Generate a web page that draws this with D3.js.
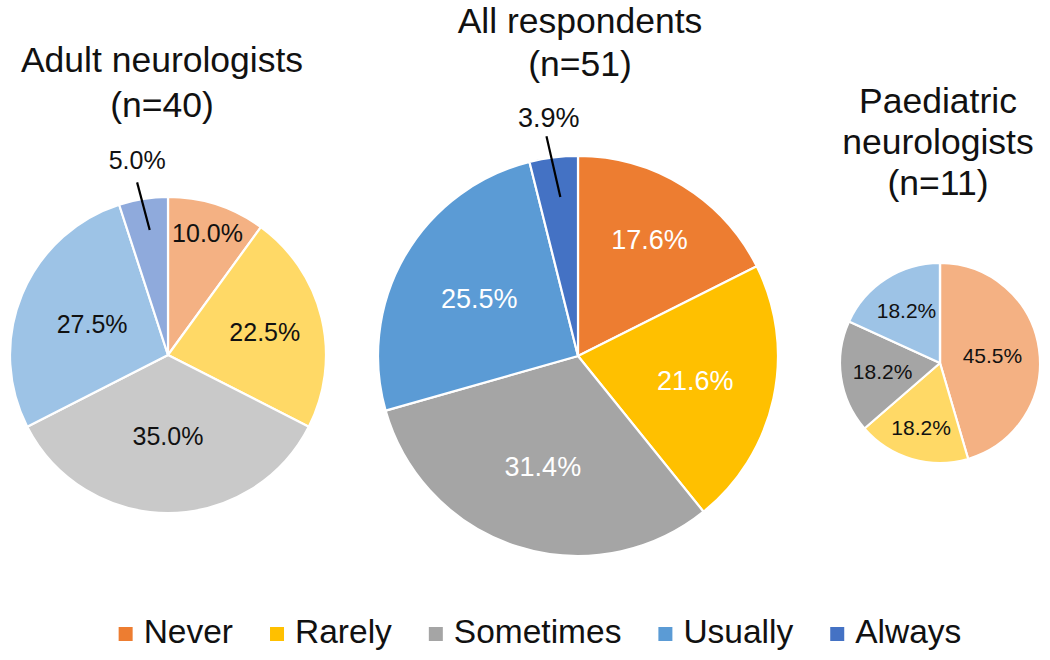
<!DOCTYPE html>
<html>
<head>
<meta charset="utf-8">
<script src="https://cdn.jsdelivr.net/npm/d3@7"></script>
<style>
  html, body { margin: 0; padding: 0; background: #fff; }
  svg { display: block; }
  text { font-family: "Liberation Sans", Arial, Helvetica, sans-serif; }
</style>
</head>
<body>
<svg id="chart" width="1050" height="660"></svg>
<script>
// ---- data ----
const categories = ["Never", "Rarely", "Sometimes", "Usually", "Always"];
const adultValues = [10.0, 22.5, 35.0, 27.5, 5.0];
const allValues = [17.6, 21.6, 31.4, 25.5, 3.9];
const paedValues = [45.5, 18.2, 18.2, 18.2, 0];
const adultTitle = ["Adult neurologists", "(n=40)"];
const allTitle = ["All respondents", "(n=51)"];
const paedTitle = ["Paediatric", "neurologists", "(n=11)"];

// ---- styles / layout ----
const allColors = ["#ED7D31", "#FFC000", "#A5A5A5", "#5B9BD5", "#4472C4"];
const adultColors = ["#F4B183", "#FFD966", "#C9C9C9", "#9DC3E6", "#8FAADC"];
const paedColors = ["#F4B183", "#FFD966", "#A5A5A5", "#9DC3E6", "#8FAADC"];

const charts = [
  { values: adultValues, colors: adultColors, title: adultTitle,
    cx: 168, cy: 355, r: 158, labelSize: 25, labelColor: "#111",
    labelR: [0.81, 0.63, 0.51, 0.52, 1.25], outside: [false, false, false, false, true],
    titleX: 162, titleY: 72, titleStep: 45 },
  { values: allValues, colors: allColors, title: allTitle,
    cx: 578, cy: 356, r: 200, labelSize: 27, labelColor: "#fff",
    labelR: [0.68, 0.60, 0.58, 0.57, 1.20], outside: [false, false, false, false, true],
    titleX: 580, titleY: 33, titleStep: 43 },
  { values: paedValues, colors: paedColors, title: paedTitle,
    cx: 940, cy: 363, r: 100, labelSize: 21, labelColor: "#111",
    labelR: [0.53, 0.67, 0.58, 0.62, 1.2], outside: [false, false, false, false, true],
    titleX: 938, titleY: 113, titleStep: 41 }
];

const svg = d3.select("#chart");
const fmt = d3.format(".1f");

charts.forEach(c => {
  const pie = d3.pie().sort(null).value(d => d)(c.values);
  const arc = d3.arc().innerRadius(0).outerRadius(c.r);
  const g = svg.append("g").attr("transform", `translate(${c.cx},${c.cy})`);

  g.selectAll("path.slice")
    .data(pie)
    .join("path")
    .attr("class", "slice")
    .attr("d", arc)
    .attr("fill", (d, i) => c.colors[i])
    .attr("stroke", "#fff")
    .attr("stroke-width", 2.2)
    .attr("stroke-linejoin", "round");

  pie.forEach((d, i) => {
    if (d.value <= 0) return;
    const mid = (d.startAngle + d.endAngle) / 2;
    const lr = c.labelR[i] * c.r;
    const x = Math.sin(mid) * lr;
    const y = -Math.cos(mid) * lr;
    if (c.outside[i]) {
      const r1 = 0.80 * c.r, r2 = 1.11 * c.r;
      g.append("line")
        .attr("x1", Math.sin(mid + 0.012) * r1).attr("y1", -Math.cos(mid + 0.012) * r1)
        .attr("x2", Math.sin(mid - 0.02) * r2).attr("y2", -Math.cos(mid - 0.02) * r2)
        .attr("stroke", "#000").attr("stroke-width", 2.2);
      g.append("text")
        .attr("x", x).attr("y", y)
        .attr("text-anchor", "middle").attr("dominant-baseline", "central")
        .attr("font-size", c.labelSize).attr("fill", "#111")
        .text(fmt(d.value) + "%");
    } else {
      g.append("text")
        .attr("x", x).attr("y", y)
        .attr("text-anchor", "middle").attr("dominant-baseline", "central")
        .attr("font-size", c.labelSize).attr("fill", c.labelColor)
        .text(fmt(d.value) + "%");
    }
  });

  const t = svg.append("text")
    .attr("text-anchor", "middle")
    .attr("font-size", 35.5)
    .attr("fill", "#111");
  c.title.forEach((line, k) => {
    t.append("tspan")
      .attr("x", c.titleX)
      .attr("y", c.titleY + k * c.titleStep)
      .text(line);
  });
});

// ---- legend ----
const legend = svg.append("g");
const sq = 14, gapSq = 11, gapItem = 37, legendFont = 33.5, legendBaseline = 643;
let xPos = 0;
categories.forEach((name, i) => {
  const it = legend.append("g");
  it.append("rect").attr("x", xPos).attr("y", legendBaseline - 16).attr("width", sq).attr("height", sq)
    .attr("fill", allColors[i]);
  const txt = it.append("text").attr("x", xPos + sq + gapSq).attr("y", legendBaseline)
    .attr("font-size", legendFont).attr("fill", "#111").text(name);
  const w = txt.node().getComputedTextLength();
  xPos += sq + gapSq + w + gapItem;
});
const totalW = xPos - gapItem;
legend.attr("transform", `translate(${540 - totalW / 2},0)`);
</script>
</body>
</html>
